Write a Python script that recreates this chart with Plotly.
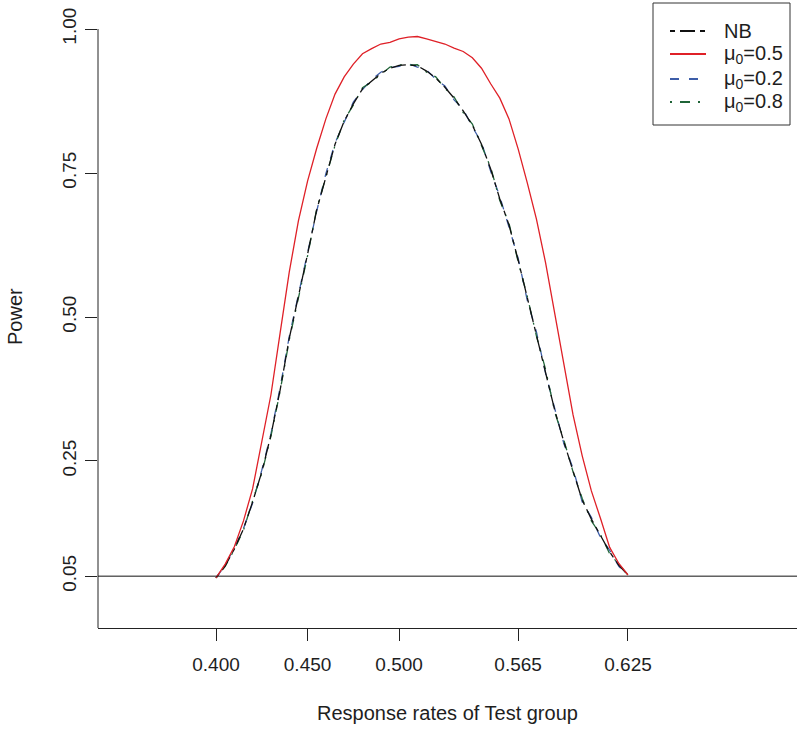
import plotly.graph_objects as go

# Response rates of Test group
rate = [0.400, 0.405, 0.410, 0.415, 0.420, 0.425, 0.430, 0.435, 0.440, 0.445,
        0.450, 0.455, 0.460, 0.465, 0.470, 0.475, 0.480, 0.485, 0.490, 0.495,
        0.500, 0.505, 0.510, 0.515, 0.520, 0.525, 0.530, 0.535, 0.540, 0.545,
        0.550, 0.555, 0.560, 0.565, 0.570, 0.575, 0.580, 0.585, 0.590, 0.595,
        0.600, 0.605, 0.610, 0.615, 0.620, 0.625]

power_nb = [0.047, 0.068, 0.097, 0.132, 0.179, 0.231, 0.295, 0.373, 0.463, 0.535,
            0.609, 0.686, 0.745, 0.800, 0.840, 0.870, 0.896, 0.910, 0.923, 0.932,
            0.937, 0.938, 0.936, 0.927, 0.915, 0.899, 0.880, 0.858, 0.833, 0.800,
            0.757, 0.705, 0.660, 0.599, 0.533, 0.470, 0.406, 0.338, 0.283, 0.234,
            0.182, 0.149, 0.120, 0.092, 0.069, 0.052]

power_mu05 = [0.047, 0.071, 0.101, 0.146, 0.202, 0.287, 0.365, 0.472, 0.578, 0.667,
              0.736, 0.793, 0.844, 0.887, 0.917, 0.939, 0.957, 0.966, 0.974, 0.977,
              0.983, 0.986, 0.987, 0.983, 0.979, 0.974, 0.967, 0.961, 0.950, 0.932,
              0.905, 0.880, 0.844, 0.792, 0.733, 0.670, 0.594, 0.505, 0.415, 0.330,
              0.259, 0.198, 0.150, 0.100, 0.072, 0.052]

power_mu02 = [0.047, 0.069, 0.099, 0.133, 0.177, 0.234, 0.297, 0.377, 0.466, 0.540,
              0.612, 0.684, 0.749, 0.802, 0.838, 0.873, 0.895, 0.912, 0.925, 0.933,
              0.935, 0.940, 0.934, 0.929, 0.913, 0.901, 0.877, 0.861, 0.830, 0.803,
              0.753, 0.709, 0.656, 0.602, 0.529, 0.474, 0.402, 0.341, 0.280, 0.237,
              0.179, 0.152, 0.117, 0.095, 0.067, 0.052]

power_mu08 = [0.047, 0.067, 0.096, 0.130, 0.181, 0.229, 0.293, 0.371, 0.460, 0.532,
              0.606, 0.688, 0.742, 0.798, 0.842, 0.868, 0.898, 0.908, 0.921, 0.934,
              0.938, 0.937, 0.938, 0.925, 0.917, 0.897, 0.882, 0.855, 0.835, 0.798,
              0.760, 0.702, 0.663, 0.596, 0.536, 0.467, 0.409, 0.335, 0.286, 0.231,
              0.185, 0.146, 0.122, 0.089, 0.071, 0.052]

x_tickvals = [0.400, 0.450, 0.500, 0.565, 0.625]
x_ticktext = ["0.400", "0.450", "0.500", "0.565", "0.625"]
y_tickvals = [0.05, 0.25, 0.50, 0.75, 1.00]
y_ticktext = ["0.05", "0.25", "0.50", "0.75", "1.00"]

names = ["NB", "μ<sub>0</sub>=0.5", "μ<sub>0</sub>=0.2", "μ<sub>0</sub>=0.8"]
series = [power_nb, power_mu05, power_mu02, power_mu08]
colors = ["#111111", "#DF2027", "#3D5DA8", "#1F6437"]
dashes = ["5px,5px,15px,5px", "solid", "9px,10px", "2px,8px,10px,8px"]

FONT = "Liberation Sans, Arial, Helvetica, sans-serif"
TXT = "#1e1e1e"

fig = go.Figure()

# curves (draw order: blue, green, NB, red)
for i in [2, 3, 0, 1]:
    fig.add_trace(go.Scatter(
        x=rate, y=series[i], mode="lines", name=names[i], showlegend=False,
        line=dict(color=colors[i], width=1.3, dash=dashes[i]),
        hoverinfo="skip"))

# ---- legend drawn in paper coordinates (box, samples, labels)
L, R, T, B = 98, 797, 6, 628          # plot area in pixels
def px(xp):
    return (xp - L) / (R - L)
def py(yp):
    return (B - yp) / (B - T)

shapes = [
    dict(type="line", xref="paper", yref="y", x0=0, x1=0, y0=-0.04, y1=1.0,
         line=dict(color="#222222", width=1)),
    dict(type="line", xref="paper", yref="y", x0=0, x1=1, y0=0.05, y1=0.05,
         line=dict(color="#111111", width=1)),
    dict(type="rect", xref="paper", yref="paper",
         x0=px(653), x1=px(790), y0=py(125), y1=py(3),
         line=dict(color="#333333", width=1), fillcolor="white", layer="above"),
]
annotations = [
    dict(text="Response rates of Test group", xref="paper", yref="paper",
         x=0.5, y=py(713), xanchor="center", yanchor="middle",
         showarrow=False, font=dict(family=FONT, size=20, color=TXT)),
    dict(text="Power", xref="paper", yref="paper",
         x=px(15), y=0.5, xanchor="center", yanchor="middle",
         textangle=-90, showarrow=False,
         font=dict(family=FONT, size=20, color=TXT)),
]
legend_rows = [31, 54, 79, 102]
for i, yr in enumerate(legend_rows):
    shapes.append(dict(type="line", xref="paper", yref="paper",
                       x0=px(670), x1=px(706), y0=py(yr), y1=py(yr),
                       line=dict(color=colors[i], width=2.2, dash=dashes[i]),
                       layer="above"))
    annotations.append(dict(text=names[i], xref="paper", yref="paper",
                            x=px(722), y=py(yr), xanchor="left", yanchor="middle",
                            showarrow=False,
                            font=dict(family=FONT, size=20, color=TXT)))

fig.update_layout(
    width=800, height=730,
    margin=dict(l=L, r=800 - R, t=T, b=730 - B),
    paper_bgcolor="white", plot_bgcolor="white",
    font=dict(family=FONT, size=19, color=TXT),
    showlegend=False,
    xaxis=dict(range=[0.33555, 0.7173], showgrid=False, zeroline=False,
               showline=True, linecolor="#222222", linewidth=1,
               tickmode="array", tickvals=x_tickvals, ticktext=x_ticktext,
               ticks="outside", ticklen=12, tickcolor="#222222", tickwidth=1,
               ticklabelstandoff=7),
    yaxis=dict(range=[-0.04, 1.04], showgrid=False, zeroline=False,
               showline=False,
               tickmode="array", tickvals=y_tickvals, ticktext=y_ticktext,
               ticks="outside", ticklen=12, tickcolor="#222222", tickwidth=1,
               tickangle=-90, ticklabelstandoff=1),
    shapes=shapes,
    annotations=annotations,
)

fig.write_html("out.html", config={"displayModeBar": False},
               post_script="document.body.style.margin='0px';")
